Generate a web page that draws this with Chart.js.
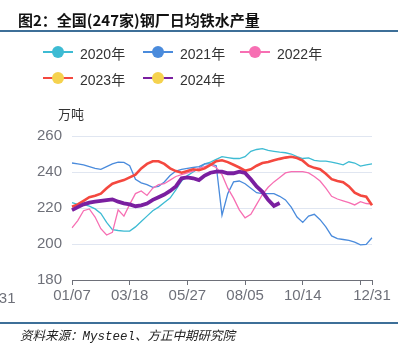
<!DOCTYPE html>
<html>
<head>
<meta charset="utf-8">
<script src="https://cdn.jsdelivr.net/npm/chart.js@4/dist/chart.umd.min.js"></script>
<style>
  html, body { margin: 0; padding: 0; background: #fff; }
  body { width: 413px; height: 353px; position: relative; overflow: hidden;
         font-family: "Liberation Sans", "Noto Sans CJK SC", sans-serif; }
  #chartBox { position: absolute; left: 0; top: 0; width: 413px; height: 353px; }
  .title { position: absolute; left: 18px; top: 9px; font-size: 15px; font-weight: bold;
           color: #111; font-family: "Noto Sans CJK SC", sans-serif; white-space: nowrap; }
  .rule { position: absolute; left: 0; width: 398px; height: 1.5px; background: #3d6f98; }
  .foot { position: absolute; left: 20px; top: 325px; font-size: 12.5px; font-style: italic;
          color: #222; font-family: "Liberation Mono", "Noto Sans CJK SC", serif; white-space: nowrap; }
  .unit { position: absolute; left: 58px; top: 104px; font-size: 13px; color: #333;
          font-family: "Noto Sans CJK SC", sans-serif; }
  .stray { position: absolute; left: -22px; top: 289px; font-size: 15px; color: #6e7079; }
  .leg { position: absolute; height: 16px; white-space: nowrap; font-size: 14px; color: #333; }
  .leg .sw { position: absolute; left: 0; top: 0; width: 30px; height: 16px; }
  .leg .ln { position: absolute; left: 0; top: 7px; width: 30px; height: 2px; }
  .leg .dot { position: absolute; left: 9px; top: 2px; width: 12px; height: 12px; border-radius: 50%; }
  .leg .tx { position: absolute; left: 37px; top: -1px; }
</style>
</head>
<body>
<div id="chartBox"><canvas id="chart" width="413" height="353"></canvas></div>
<div class="title">图2：全国(247家)钢厂日均铁水产量</div>
<div class="rule" style="top:30px"></div>
<div class="rule" style="top:322px"></div>
<div class="foot">资料来源：Mysteel、方正中期研究院</div>
<div class="unit">万吨</div>
<div class="stray">12/31</div>
<div id="legend"></div>

<script>
// semaines (axe X)
var weeks = ["01/07","01/14","01/21","01/28","02/04","02/11","02/18","02/25","03/04","03/11",
             "03/18","03/25","04/01","04/08","04/15","04/22","04/29","05/06","05/13","05/20",
             "05/27","06/03","06/10","06/17","06/24","07/01","07/08","07/15","07/22","07/29",
             "08/05","08/12","08/19","08/26","09/02","09/09","09/16","09/23","09/30","10/07",
             "10/14","10/21","10/28","11/04","11/11","11/18","11/25","12/02","12/09","12/16",
             "12/23","12/30","12/31"];
var labelWeeks = ["01/07","03/18","05/27","08/05","10/14","12/31"];
var tickWeeks = ["01/07","03/18","05/27","08/05","10/14","12/23","12/31"];
var yTicks = [180, 200, 220, 240, 260];

var y2020 = [223,222,222,221,219.5,217,212,208,207.5,207.2,
             207.2,209.5,212.5,215.5,218.5,220.5,223,225.5,230,235,
             238,240,242,244.5,245.5,247,248.5,248,247.5,247.5,
             248.5,251.5,252.5,253,252,251.5,251,250.7,250,248.5,
             247.5,247.8,246.5,246,246,245.5,244.8,244,245.7,245,
             243.3,244,244.5];
var y2021 = [245,244.5,244,243,242,241.5,243,244.5,245.5,245.3,
             243.5,236,234,233,231.5,232,234.5,238,240.5,241.5,
             242,242.5,243,244.5,244.5,243.5,216,228,234.5,235,
             233.5,231,228.5,228,228,228,226.5,224.5,220.5,215,
             212,215.5,216.5,213.5,209.5,204.5,203,202.5,202,201,
             199.5,199.8,203.5];
var y2022 = [209,213,218.5,219.5,215,208.5,205,206.5,219,215.5,
             222,228,229.5,227,231,233,233.5,235.5,237.5,238.5,
             239.5,240.5,242,243,244,242.5,238.5,231,225.5,219,
             214.5,216.5,222,227.5,231.5,234.5,237,239.5,240.2,240.2,
             240.2,239.5,237.5,235,231,226.5,225,224,223,221.7,
             223.5,222.5,222.2];
var y2023 = [220.7,222,224,226,226.8,228,231,233.5,234.6,235.5,
             237,238.5,242,244.5,246,246,244.5,242,240.5,239.6,
             240.5,241.5,241,242,244,246,246.5,245.5,244,242.5,
             240.7,241.5,243.5,245,245.5,246.5,247.3,248,248.5,247.8,
             246.3,243.5,242.3,241.5,239,236,235,234.3,232,228.5,
             227,226.3,221.5];
var y2024 = [218.8,220.5,222,223,223.5,224,224.4,224.8,223.5,222.6,
             222,221,221.5,222.5,224.5,226,227.5,229.5,232,236.5,
             237,236.5,235.5,238,239.6,240.2,240.2,239.3,239.3,240.2,
             239.5,236,232,229,224.5,221.2,222.8];

var series = [
    {name: "2020年", data: y2020, color: "#3dbbd3", dot: "#3dbbd3", width: 1.3, order: 5},
    {name: "2021年", data: y2021, color: "#4a8bdc", dot: "#4a8bdc", width: 1.3, order: 4},
    {name: "2022年", data: y2022, color: "#f76fb3", dot: "#f76fb3", width: 1.3, order: 3},
    {name: "2023年", data: y2023, color: "#f4483f", dot: "#f5d24e", width: 2.6, order: 2},
    {name: "2024年", data: y2024, color: "#7a1fa0", dot: "#f5d24e", width: 3.8, order: 1}
];

// legende HTML
var legPos = [[43, 44], [143, 44], [240, 44], [43, 70], [143, 70]];
var legHtml = "";
series.forEach(function (s, i) {
    legHtml += '<div class="leg" style="left:' + legPos[i][0] + 'px;top:' + legPos[i][1] + 'px">' +
        '<div class="sw"><div class="ln" style="background:' + s.color + '"></div>' +
        '<div class="dot" style="background:' + s.dot + '"></div></div>' +
        '<div class="tx">' + s.name + '</div></div>';
});
document.getElementById("legend").innerHTML = legHtml;

var datasets = series.map(function (s) {
    return {
        label: s.name,
        data: s.data,
        borderColor: s.color,
        backgroundColor: s.color,
        borderWidth: s.width,
        pointRadius: 0,
        tension: 0,
        fill: false,
        order: s.order
    };
});

var axisGray = "#6e7079";

new Chart(document.getElementById("chart").getContext("2d"), {
    type: "line",
    data: {labels: weeks, datasets: datasets},
    options: {
        responsive: false,
        animation: false,
        events: [],
        layout: {padding: {left: 0, right: 41, top: 136, bottom: 0}},
        plugins: {legend: {display: false}, tooltip: {enabled: false}},
        scales: {
            x: {
                type: "category",
                offset: false,
                afterFit: function (scale) { scale.height = 73; },
                border: {display: true, color: axisGray, width: 1},
                grid: {
                    display: true,
                    drawOnChartArea: false,
                    drawTicks: true,
                    tickLength: 5,
                    tickColor: function (ctx) {
                        return tickWeeks.indexOf(weeks[ctx.index]) >= 0 ? axisGray : "rgba(0,0,0,0)";
                    }
                },
                ticks: {
                    autoSkip: false,
                    maxRotation: 0,
                    minRotation: 0,
                    padding: 2,
                    color: axisGray,
                    font: {size: 15, family: "Liberation Sans"},
                    callback: function (val, idx) {
                        return labelWeeks.indexOf(weeks[idx]) >= 0 ? weeks[idx] : "";
                    }
                }
            },
            y: {
                min: yTicks[0],
                max: yTicks[yTicks.length - 1],
                afterFit: function (scale) { scale.width = 72; },
                afterBuildTicks: function (scale) {
                    scale.ticks = yTicks.map(function (v) { return {value: v}; });
                },
                border: {display: false},
                grid: {color: "#e0e6f1", lineWidth: 1, drawTicks: false},
                ticks: {
                    padding: 10,
                    color: axisGray,
                    font: {size: 15, family: "Liberation Sans"}
                }
            }
        }
    }
});
</script>
</body>
</html>
